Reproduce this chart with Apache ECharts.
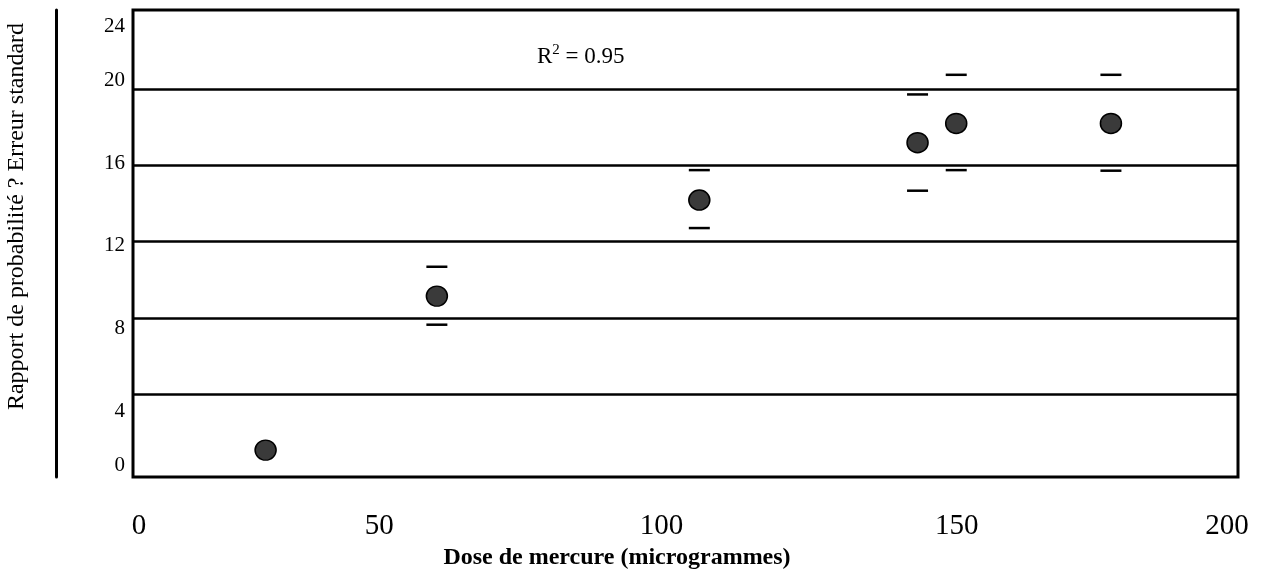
<!DOCTYPE html>
<html>
<head>
<meta charset="utf-8">
<script src="https://cdn.jsdelivr.net/npm/echarts@6/dist/echarts.min.js"></script>
<style>
  html, body { margin: 0; padding: 0; background: #fff; }
  #chart { width: 1270px; height: 569px; }
</style>
</head>
<body>
<div id="chart"></div>
<script>
// Mercury dose vs odds ratio, with standard-error caps
const doses  = [24, 55, 102.5, 142, 149, 177];
const ratios = [1.06, 9.14, 14.18, 17.19, 18.20, 18.20];
const upper  = [null, 10.68, 15.75, 19.72, 20.75, 20.75];
const lower  = [null, 7.64, 12.71, 14.67, 15.75, 15.72];

const yTickLabels = [0, 4, 8, 12, 16, 20, 24];
const yGridValues = [4, 8, 12, 16, 20];
const xTickLabels = [0, 50, 100, 150, 200];

const rSquaredText = '0.95';
const xTitle = 'Dose de mercure (microgrammes)';
const yTitle = 'Rapport de probabilité ? Erreur standard';

const SERIF = '"Liberation Serif", "Times New Roman", serif';

// small per-label nudges of the tick text
const yNudge = { 0: -5, 4: 17, 8: 11, 12: 4, 16: -2, 20: -9, 24: 14 };
const xNudge = { 0: 6, 50: -30, 100: -24, 150: -5, 200: -11 };

const yRich = {};
yTickLabels.forEach(v => {
  const d = yNudge[v] || 0;
  yRich['y' + v] = {
    fontFamily: SERIF, fontSize: 21, color: '#000',
    padding: d >= 0 ? [2 * d, 0, 0, 0] : [0, 0, -2 * d, 0]
  };
});
const xRich = {};
xTickLabels.forEach(v => {
  const d = xNudge[v] || 0;
  xRich['x' + v] = {
    fontFamily: SERIF, fontSize: 29, color: '#000',
    padding: d >= 0 ? [0, 0, 0, 2 * d] : [0, -2 * d, 0, 0]
  };
});

const pair = (xs, ys) => xs.map((x, i) => ys[i] == null ? null : [x, ys[i]]).filter(p => p);

const chart = echarts.init(document.getElementById('chart'), null, { renderer: 'canvas' });

chart.setOption({
  animation: false,
  backgroundColor: '#fff',
  title: {
    text: '{r|R}{s|2}{r| = ' + rSquaredText + '}',
    left: 532,
    top: 38,
    textStyle: {
      fontWeight: 'normal',
      rich: {
        r: { fontFamily: SERIF, fontSize: 23, fontWeight: 'normal', color: '#000', lineHeight: 28 },
        s: { fontFamily: SERIF, fontSize: 15, fontWeight: 'normal', color: '#000', lineHeight: 15, verticalAlign: 'top' }
      }
    }
  },
  grid: {
    left: 133, right: 32, top: 10, bottom: 92,
    outerBoundsMode: 'none',
    containLabel: false,
    show: true, borderColor: '#000', borderWidth: 3, backgroundColor: 'transparent'
  },
  xAxis: {
    type: 'value',
    min: 0, max: 200, interval: 50,
    axisLine: { show: false },
    axisTick: { show: false },
    splitLine: { show: false },
    axisLabel: {
      margin: 35,
      formatter: v => '{x' + v + '|' + v + '}',
      rich: xRich
    },
    name: xTitle,
    nameLocation: 'middle',
    nameGap: 59,
    nameTextStyle: {
      fontFamily: SERIF, fontSize: 24, fontWeight: 'bold', color: '#000',
      padding: [0, 137, 0, 0]
    }
  },
  yAxis: [
    {
      type: 'value',
      min: -0.35, max: 24.15,
      axisLine: { show: false },
      axisTick: { show: false, customValues: yGridValues },
      splitLine: { show: true, lineStyle: { color: '#000', width: 2.5 } },
      axisLabel: {
        margin: 8,
        customValues: yTickLabels,
        formatter: v => '{y' + v + '|' + v + '}',
        rich: yRich
      }
    },
    {
      type: 'value',
      position: 'left',
      offset: 77,
      min: -0.35, max: 24.15,
      axisLine: { show: true, lineStyle: { color: '#000', width: 3 } },
      axisTick: { show: false },
      axisLabel: { show: false },
      splitLine: { show: false },
      name: yTitle,
      nameLocation: 'middle',
      nameGap: 27,
      nameTextStyle: {
        fontFamily: SERIF, fontSize: 24, color: '#000',
        padding: [0, 0, 0, 54]
      }
    }
  ],
  series: [
    {
      name: 'upper',
      type: 'scatter',
      data: pair(doses, upper),
      symbol: 'rect',
      symbolSize: [21, 2.5],
      itemStyle: { color: '#000', opacity: 1 },
      z: 3
    },
    {
      name: 'lower',
      type: 'scatter',
      data: pair(doses, lower),
      symbol: 'rect',
      symbolSize: [21, 2.5],
      itemStyle: { color: '#000', opacity: 1 },
      z: 3
    },
    {
      name: 'ratio',
      type: 'scatter',
      data: pair(doses, ratios),
      symbol: 'circle',
      symbolSize: [21, 20],
      itemStyle: { color: '#3a3a3a', borderColor: '#000', borderWidth: 1.5, opacity: 1 },
      z: 4
    }
  ]
});
</script>
</body>
</html>
